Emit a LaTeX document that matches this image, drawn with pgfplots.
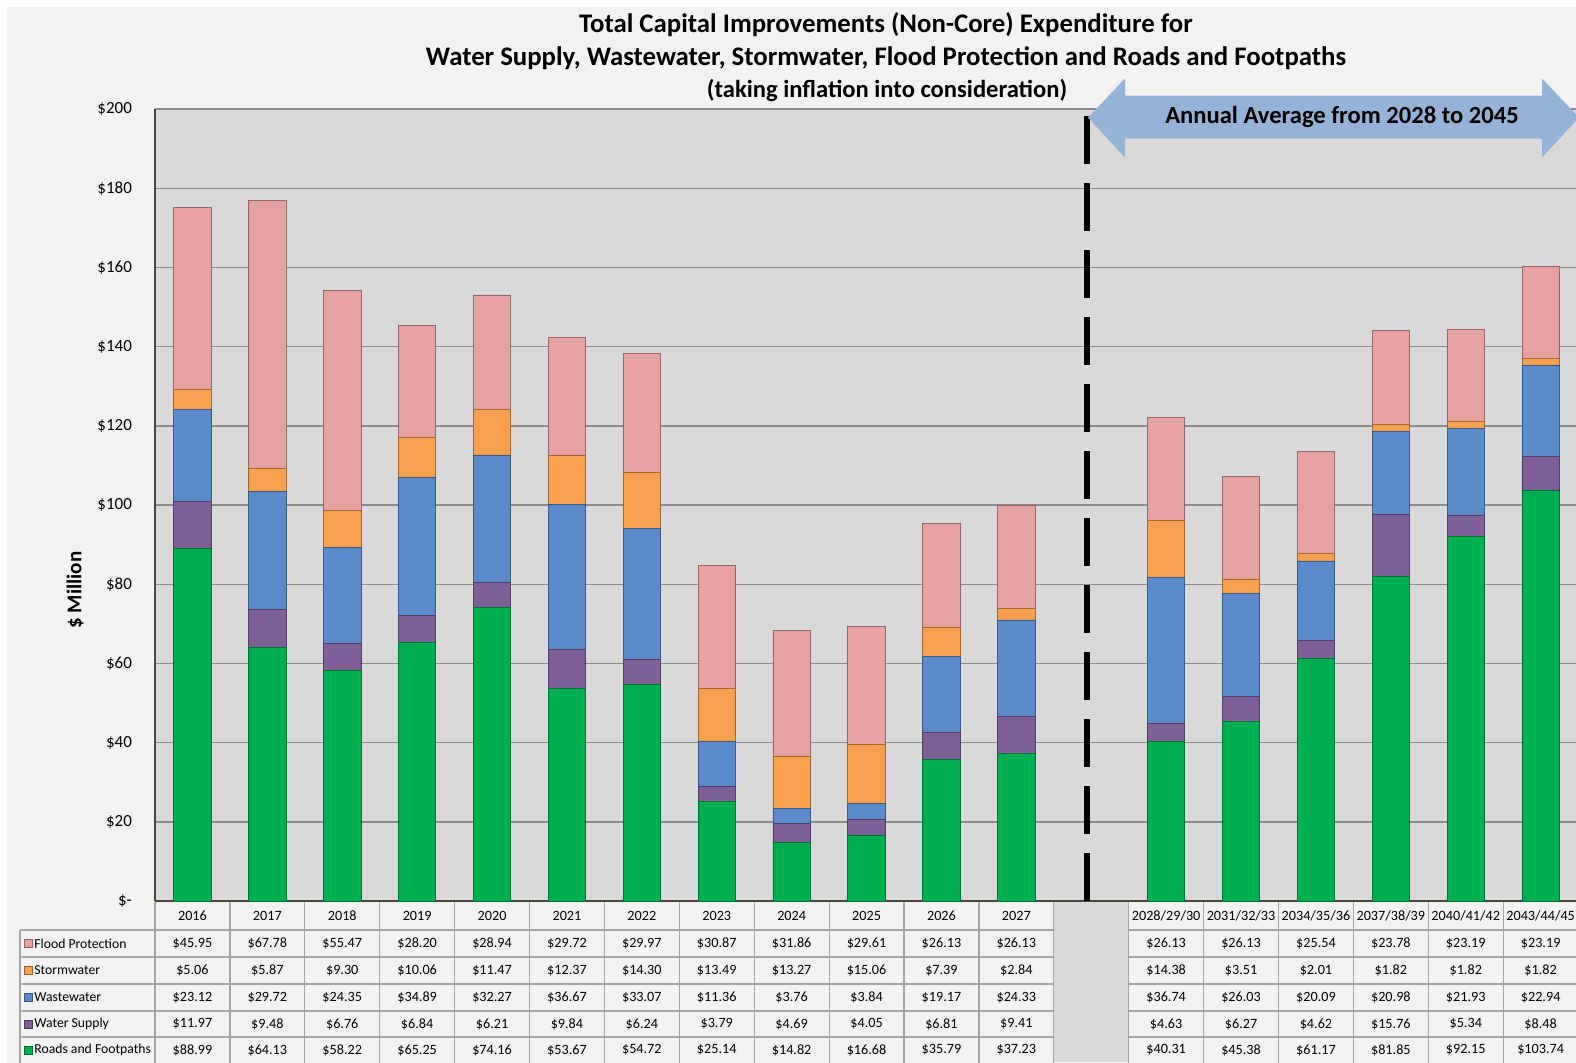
\documentclass[border=0pt]{standalone}
\usepackage{fontspec}
\setmainfont{Carlito}
\usepackage{pgfplots}
\usepackage{pgfplotstable}
\pgfplotsset{compat=1.18}

\definecolor{bgc}{HTML}{F2F2F2}
\definecolor{plotbg}{HTML}{D9D9D9}
\definecolor{gridc}{HTML}{8C8C8C}
\definecolor{axc}{HTML}{4A4535}
\definecolor{tabline}{HTML}{A6A6A6}
\definecolor{cflood}{HTML}{E6A1A1}
\definecolor{cstorm}{HTML}{F9A04F}
\definecolor{cwaste}{HTML}{5B8BCB}
\definecolor{cwater}{HTML}{7E5F98}
\definecolor{croads}{HTML}{00B050}
\definecolor{arrowc}{HTML}{95B3D7}

\pgfplotstableread{
x lab flood storm waste water roads
0 2016 45.95 5.06 23.12 11.97 88.99
1 2017 67.78 5.87 29.72 9.48 64.13
2 2018 55.47 9.30 24.35 6.76 58.22
3 2019 28.20 10.06 34.89 6.84 65.25
4 2020 28.94 11.47 32.27 6.21 74.16
5 2021 29.72 12.37 36.67 9.84 53.67
6 2022 29.97 14.30 33.07 6.24 54.72
7 2023 30.87 13.49 11.36 3.79 25.14
8 2024 31.86 13.27 3.76 4.69 14.82
9 2025 29.61 15.06 3.84 4.05 16.68
10 2026 26.13 7.39 19.17 6.81 35.79
11 2027 26.13 2.84 24.33 9.41 37.23
13 2028/29/30 26.13 14.38 36.74 4.63 40.31
14 2031/32/33 26.13 3.51 26.03 6.27 45.38
15 2034/35/36 25.54 2.01 20.09 4.62 61.17
16 2037/38/39 23.78 1.82 20.98 15.76 81.85
17 2040/41/42 23.19 1.82 21.93 5.34 92.15
18 2043/44/45 23.19 1.82 22.94 8.48 103.74
}\datatable

\tikzset{tabfont/.style={font=\fontsize{7.1}{8}\selectfont, inner sep=0pt},
         legfont/.style={font=\fontsize{6.85}{8}\selectfont, inner sep=0pt}}
\newcommand\tabval[2]{%
  \pgfplotstablegetelem{\r}{#1}\of\datatable
  \node[tabfont] at (\cx,#2) {\$\pgfmathprintnumber[fixed,fixed zerofill,precision=2,assume math mode=true]{\pgfplotsretval}};}

\begin{document}
\begin{tikzpicture}
\path[use as bounding box] (0,0) rectangle (788pt,-531pt);
\fill[white] (0,0) rectangle (788pt,-531pt);
\fill[bgc] (3.5pt,-3.5pt) rectangle (790pt,-533pt);
\begin{axis}[
  at={(77.5pt,-450.5pt)}, anchor=south west,
  scale only axis, width=711.55pt, height=396pt,
  xmin=-0.5, xmax=18.5, ymin=0, ymax=200,
  axis background/.style={fill=plotbg},
  axis lines*=left,
  axis line style={axc, line width=1pt},
  ybar stacked, bar width=0.5,
  xtick=\empty,
  ytick={0,20,...,200},
  yticklabels={\$-,\$20,\$40,\$60,\$80,\$100,\$120,\$140,\$160,\$180,\$200},
  yticklabel style={font=\fontsize{8.5}{10}\selectfont, xshift=-8pt},
  major tick length=0pt,
  ymajorgrids, grid style={gridc, line width=0.7pt},
]
\addplot[fill=croads, draw=croads!65!black, line width=0.4pt] table[x=x,y=roads]{\datatable};
\addplot[fill=cwater, draw=cwater!65!black, line width=0.4pt] table[x=x,y=water]{\datatable};
\addplot[fill=cwaste, draw=cwaste!65!black, line width=0.4pt] table[x=x,y=waste]{\datatable};
\addplot[fill=cstorm, draw=cstorm!65!black, line width=0.4pt] table[x=x,y=storm]{\datatable};
\addplot[fill=cflood, draw=cflood!65!black, line width=0.4pt] table[x=x,y=flood]{\datatable};
\end{axis}
\begin{scope}[x=0.5pt,y=-0.5pt]
  % titles
  \node[font=\bfseries\fontsize{13.4}{15}\selectfont] at (886,25) {Total Capital Improvements (Non-Core) Expenditure for};
  \node[font=\bfseries\fontsize{13.4}{15}\selectfont] at (886,58) {Water Supply, Wastewater, Stormwater, Flood Protection and Roads and Footpaths};
  \node[font=\bfseries\fontsize{12.3}{14}\selectfont] at (887,90) {(taking inflation into consideration)};
  % y label
  \node[rotate=90, font=\bfseries\fontsize{10.5}{12}\selectfont] at (75,590) {\$ Million};
  % dashed separator
  \draw[black, line width=3pt, dash pattern=on 24pt off 9.5pt] (1087,116) -- (1087,901);
  % arrow
  \fill[arrowc] (1088,117.5) -- (1125,78.5) -- (1125,95.5) -- (1542,95.5) -- (1542,78.5) -- (1579,117.5)
     -- (1542,157.5) -- (1542,138.5) -- (1125,138.5) -- (1125,157.5) -- cycle;
  \node[font=\bfseries\fontsize{12.3}{14}\selectfont] at (1342,117) {Annual Average from 2028 to 2045};
  % table grid
  \foreach \yy in {930,957,984,1011,1037} \draw[tabline, line width=0.6pt] (20,\yy) -- (1580,\yy);
  \fill[plotbg] (1054,901.5) rectangle (1129,1062);
  \foreach \k in {0,...,19} \draw[tabline, line width=0.6pt] ({155+\k*74.9},901.5) -- ({155+\k*74.9},1064);
  \draw[tabline, line width=0.6pt] (20,930) -- (20,1064);
  % legend column
  \foreach \lab/\col/\yy in {Flood Protection/cflood/943.5, Stormwater/cstorm/970.5, Wastewater/cwaste/997.5, Water Supply/cwater/1024, Roads and Footpaths/croads/1050} {
    \fill[\col] (24,\yy-4) rectangle (32,\yy+4);
    \draw[\col!60!black, line width=0.3pt] (24,\yy-4) rectangle (32,\yy+4);
    \node[legfont, anchor=west] at (34,\yy) {\lab};
  }
  % table values
  \foreach \r in {0,...,17} {
    \pgfplotstablegetelem{\r}{x}\of\datatable
    \pgfmathsetmacro\cx{155+(\pgfplotsretval+0.5)*74.9}
    \pgfplotstablegetelem{\r}{lab}\of\datatable
    \node[tabfont] at (\cx,916) {\pgfplotsretval};
    \tabval{flood}{943.5}
    \tabval{storm}{970.5}
    \tabval{waste}{997.5}
    \tabval{water}{1024}
    \tabval{roads}{1050}
  }
\end{scope}
\end{tikzpicture}
\end{document}
